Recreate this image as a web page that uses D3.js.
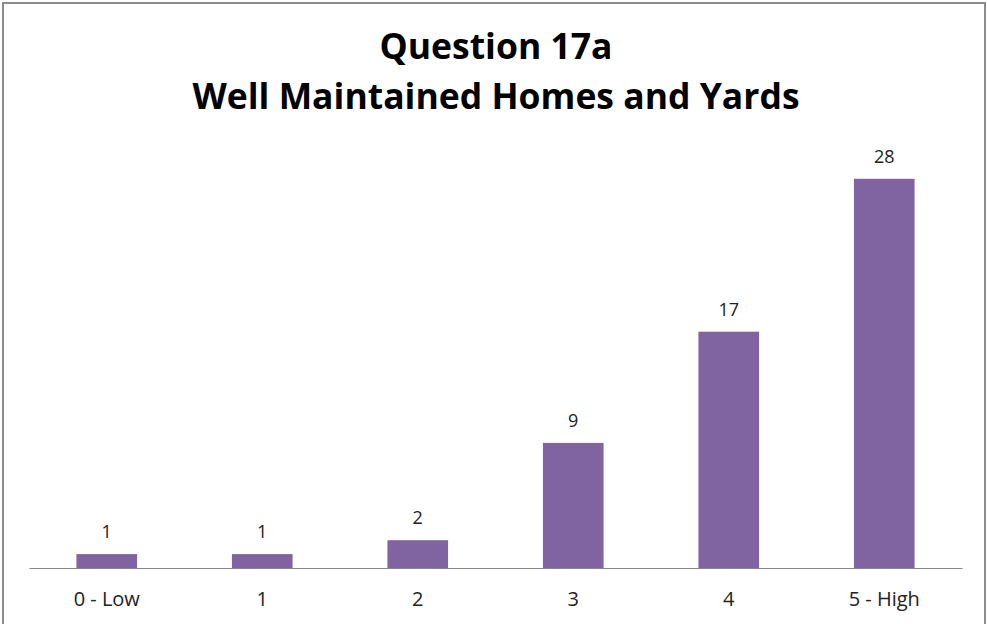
<!DOCTYPE html>
<html>
<head>
<meta charset="utf-8">
<script src="https://cdn.jsdelivr.net/npm/d3@7"></script>
<style>
  body { margin: 0; background: #fff; }
  svg { display: block; font-family: "Open Sans", sans-serif; }
</style>
</head>
<body>
<div id="chart"></div>
<script>
// chart data
var categories = ["0 - Low", "1", "2", "3", "4", "5 - High"];
var counts = [1, 1, 2, 9, 17, 28];
var titleLines = ["Question 17a", "Well Maintained Homes and Yards"];

var W = 987, H = 624;
var margin = {top: 151, left: 29, right: 25, bottom: 56};

var svg = d3.select("#chart")
  .append("svg")
    .attr("width", W)
    .attr("height", H);

// outer frame
svg.append("rect")
  .attr("x", 3).attr("y", 3)
  .attr("width", W - 5).attr("height", H)
  .attr("fill", "#fff")
  .attr("stroke", "#8c8c8c")
  .attr("stroke-width", 2);

var x = d3.scaleBand()
  .domain(categories)
  .range([margin.left, W - margin.right])
  .paddingInner(0.61)
  .paddingOuter(0.305);

var y = d3.scaleLinear()
  .domain([0, 30])
  .range([H - margin.bottom, margin.top]);

// title
svg.append("text")
  .attr("text-anchor", "middle")
  .attr("font-weight", "bold")
  .attr("font-size", 35.5)
  .attr("fill", "#000")
  .selectAll("tspan")
  .data(titleLines)
  .enter()
  .append("tspan")
    .attr("x", 496)
    .attr("y", function(d, i) { return 59 + i * 50; })
    .text(function(d) { return d; });

// bars
svg.selectAll(".bar")
  .data(counts)
  .enter()
  .append("rect")
    .attr("class", "bar")
    .attr("x", function(d, i) { return x(categories[i]); })
    .attr("width", x.bandwidth())
    .attr("y", function(d) { return y(d); })
    .attr("height", function(d) { return y(0) - y(d); })
    .attr("fill", "#8064a2");

// value labels
svg.selectAll(".val")
  .data(counts)
  .enter()
  .append("text")
    .attr("class", "val")
    .attr("x", function(d, i) { return x(categories[i]) + x.bandwidth() / 2; })
    .attr("y", function(d) { return y(d) - 16; })
    .attr("text-anchor", "middle")
    .attr("font-size", 18)
    .attr("fill", "#222")
    .text(function(d) { return d; });

// x axis
var xAxis = svg.append("g")
  .attr("transform", "translate(0," + y(0) + ")")
  .call(d3.axisBottom(x).tickSize(0).tickPadding(24).tickSizeOuter(0));
xAxis.select(".domain").attr("stroke", "#888").attr("stroke-width", 1.2);
xAxis.selectAll("text")
  .attr("font-size", 20)
  .attr("font-family", "'Open Sans', sans-serif")
  .attr("fill", "#222");
</script>
</body>
</html>
